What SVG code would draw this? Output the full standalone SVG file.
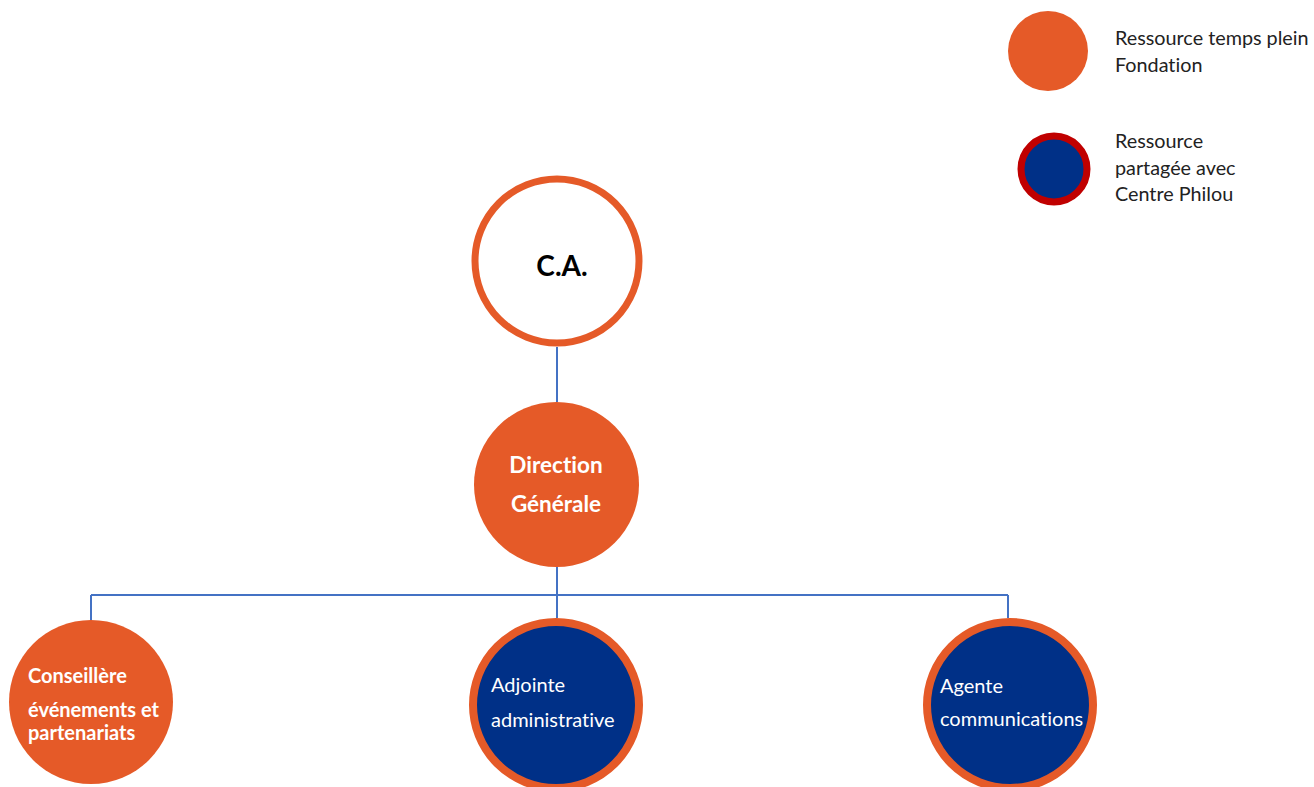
<svg xmlns="http://www.w3.org/2000/svg" width="1314" height="787" viewBox="0 0 1314 787">
<style>
.t{font-family:Lato,"Liberation Sans",sans-serif;font-variant-ligatures:none;}
.leg{font-size:19.8px;fill:#222;}
.w{fill:#fff;}
.b{font-weight:bold;}
.conn{stroke:#4472C4;stroke-width:2;fill:none;}
.or{fill:#E55A28;}
.bl{fill:#003087;stroke:#E55A28;stroke-width:8;}
</style>
<rect width="1314" height="787" fill="#fff"/>
<g id="connectors">
<path class="conn" d="M557 347V402M557 567V618M91 595H1008M91 595V621M1008 595V618"/>
</g>
<g id="legend-full">
<circle class="or" cx="1048" cy="51" r="40"/>
<text class="t leg" x="1115" y="45">Ressource temps plein</text>
<text class="t leg" x="1115" y="72">Fondation</text>
</g>
<g id="legend-shared">
<circle cx="1054" cy="169" r="33" fill="#003087" stroke="#C00000" stroke-width="7"/>
<text class="t leg" x="1115" y="148">Ressource</text>
<text class="t leg" x="1115" y="175">partagée avec</text>
<text class="t leg" x="1115" y="201">Centre Philou</text>
</g>
<g id="ca">
<circle cx="557" cy="261" r="82" fill="#fff" stroke="#E55A28" stroke-width="7"/>
<text class="t b" x="562" y="276" font-size="28" text-anchor="middle" fill="#000">C.A.</text>
</g>
<g id="direction">
<circle class="or" cx="556.5" cy="484.5" r="82.5"/>
<text class="t b w" x="556" y="473" font-size="22.5" text-anchor="middle">Direction</text>
<text class="t b w" x="556" y="512" font-size="22.5" text-anchor="middle">Générale</text>
</g>
<g id="conseillere">
<circle class="or" cx="91" cy="702" r="82"/>
<text class="t b w" x="28" y="683" font-size="20">Conseillère</text>
<text class="t b w" x="28" y="717" font-size="20">événements et</text>
<text class="t b w" x="28" y="740" font-size="20">partenariats</text>
</g>
<g id="adjointe">
<circle class="bl" cx="556" cy="705" r="83"/>
<text class="t w" x="491" y="692" font-size="20">Adjointe</text>
<text class="t w" x="491" y="727" font-size="20">administrative</text>
</g>
<g id="agente">
<circle class="bl" cx="1010" cy="705" r="83"/>
<text class="t w" x="940" y="693" font-size="20">Agente</text>
<text class="t w" x="940" y="726" font-size="20">communications</text>
</g>
</svg>
